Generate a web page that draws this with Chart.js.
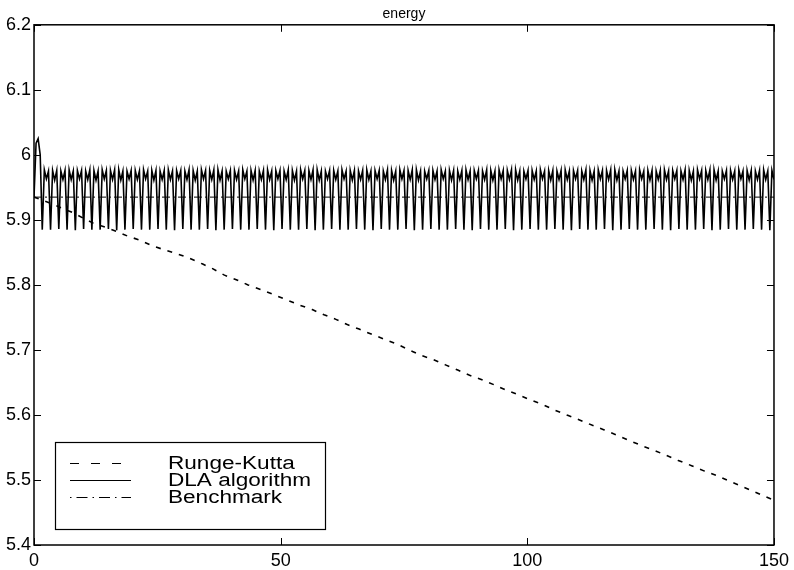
<!DOCTYPE html>
<html>
<head>
<meta charset="utf-8">
<title>energy</title>
<script src="https://cdn.jsdelivr.net/npm/chart.js@4.4.0/dist/chart.umd.min.js"></script>
<style>
  html, body { margin: 0; padding: 0; background: #fff; }
</style>
</head>
<body>
<canvas id="energyChart" width="794" height="570"></canvas>
<script>
// readings along the Runge-Kutta curve (time, energy)
const rkTime = [0, 3.2, 5.7, 7.9, 9.9, 12.0, 14.4, 16.8, 19.0, 21.4, 24.0, 26.4, 28.9, 31.2,
  34.2, 36.2, 38.6, 41.0, 43.4, 45.9, 48.3, 51.2, 53.8, 56.4, 58.8, 61.2, 63.5, 65.9, 68.5,
  71.2, 73.6, 76.0, 78.4, 81.0, 83.4, 85.9, 88.3, 90.8, 93.4, 95.8, 98.2, 100.7, 103.1,
  105.7, 108.3, 110.7, 113.2, 115.6, 118.1, 120.6, 123.1, 125.6, 128.1, 130.6, 133.3,
  135.8, 138.3, 140.7, 143.2, 145.7, 148.1, 150];
const rkEnergy = [5.935, 5.926, 5.918, 5.911, 5.903, 5.895, 5.889, 5.882, 5.875, 5.869, 5.860,
  5.854, 5.848, 5.842, 5.832, 5.825, 5.815, 5.808, 5.800, 5.793, 5.786, 5.777, 5.769, 5.762,
  5.754, 5.747, 5.739, 5.732, 5.724, 5.716, 5.709, 5.700, 5.692, 5.685, 5.677, 5.669, 5.661,
  5.654, 5.646, 5.638, 5.631, 5.623, 5.616, 5.607, 5.599, 5.592, 5.584, 5.577, 5.569, 5.561,
  5.553, 5.546, 5.538, 5.530, 5.522, 5.514, 5.507, 5.499, 5.491, 5.483, 5.475, 5.469];

// DLA samples, one every dlaStep (4 per oscillation)
const dlaStep = 150 / 358;
const dlaEnergy = [5.935, 6.018, 6.025, 6.000, 5.885,
  5.977,5.963,5.975,5.885, 5.976,5.961,5.976,5.886, 5.975,5.962,5.976,5.885, 5.977,5.962,5.975,5.884,
  5.976,5.963,5.976,5.886, 5.975,5.962,5.977,5.885, 5.976,5.961,5.975,5.885, 5.977,5.963,5.976,5.886,
  5.976,5.962,5.977,5.884, 5.977,5.961,5.975,5.885, 5.975,5.963,5.976,5.886, 5.976,5.962,5.975,5.885,
  5.977,5.963,5.975,5.885, 5.976,5.961,5.976,5.886, 5.975,5.962,5.976,5.885, 5.977,5.962,5.975,5.884,
  5.976,5.963,5.976,5.886, 5.975,5.962,5.977,5.885, 5.976,5.961,5.975,5.885, 5.977,5.963,5.976,5.886,
  5.976,5.962,5.977,5.884, 5.977,5.961,5.975,5.885, 5.975,5.963,5.976,5.886, 5.976,5.962,5.975,5.885,
  5.977,5.963,5.975,5.885, 5.976,5.961,5.976,5.886, 5.975,5.962,5.976,5.885, 5.977,5.962,5.975,5.884,
  5.976,5.963,5.976,5.886, 5.975,5.962,5.977,5.885, 5.976,5.961,5.975,5.885, 5.977,5.963,5.976,5.886,
  5.976,5.962,5.977,5.884, 5.977,5.961,5.975,5.885, 5.975,5.963,5.976,5.886, 5.976,5.962,5.975,5.885,
  5.977,5.963,5.975,5.885, 5.976,5.961,5.976,5.886, 5.975,5.962,5.976,5.885, 5.977,5.962,5.975,5.884,
  5.976,5.963,5.976,5.886, 5.975,5.962,5.977,5.885, 5.976,5.961,5.975,5.885, 5.977,5.963,5.976,5.886,
  5.976,5.962,5.977,5.884, 5.977,5.961,5.975,5.885, 5.975,5.963,5.976,5.886, 5.976,5.962,5.975,5.885,
  5.977,5.963,5.975,5.885, 5.976,5.961,5.976,5.886, 5.975,5.962,5.976,5.885, 5.977,5.962,5.975,5.884,
  5.976,5.963,5.976,5.886, 5.975,5.962,5.977,5.885, 5.976,5.961,5.975,5.885, 5.977,5.963,5.976,5.886,
  5.976,5.962,5.977,5.884, 5.977,5.961,5.975,5.885, 5.975,5.963,5.976,5.886, 5.976,5.962,5.975,5.885,
  5.977,5.963,5.975,5.885, 5.976,5.961,5.976,5.886, 5.975,5.962,5.976,5.885, 5.977,5.962,5.975,5.884,
  5.976,5.963,5.976,5.886, 5.975,5.962,5.977,5.885, 5.976,5.961,5.975,5.885, 5.977,5.963,5.976,5.886,
  5.976,5.962,5.977,5.884, 5.977,5.961,5.975,5.885, 5.975,5.963,5.976,5.886, 5.976,5.962,5.975,5.885,
  5.977,5.963,5.975,5.885, 5.976,5.961,5.976,5.886, 5.975,5.962,5.976,5.885, 5.977,5.962,5.975,5.884,
  5.976,5.963,5.976,5.886, 5.975,5.962,5.977,5.885, 5.976,5.961,5.975,5.885, 5.977,5.963,5.976,5.886,
  5.976,5.962,5.977,5.884, 5.977,5.961,5.975,5.885, 5.975,5.963,5.976,5.886, 5.976,5.962,5.975,5.885,
  5.977,5.963,5.975,5.885, 5.976,5.961,5.976,5.886, 5.975,5.962,5.976,5.885, 5.977,5.962,5.975,5.884,
  5.976, 5.962];

const benchTime = [0, 150];
const benchEnergy = [5.935, 5.935];

const xTicks = [0, 50, 100, 150];
const yTicks = [5.4, 5.5, 5.6, 5.7, 5.8, 5.9, 6.0, 6.1, 6.2];

const FONT = "'Liberation Sans', Arial, Helvetica, sans-serif";

function pairs(xs, ys) {
  return ys.map((y, i) => ({ x: xs[i], y: y }));
}

// box, inward ticks and the legend, drawn the old matlab way
const frame = {
  id: 'frame',
  afterDatasetsDraw(chart) {
    const ctx = chart.ctx;
    const a = chart.chartArea;
    const xs = chart.scales.x, ys = chart.scales.y;
    ctx.save();
    ctx.strokeStyle = '#000';
    ctx.lineWidth = 1;
    ctx.setLineDash([]);
    ctx.beginPath();
    xTicks.forEach(v => {
      const px = Math.round(xs.getPixelForValue(v)) + 0.5;
      ctx.moveTo(px, a.bottom); ctx.lineTo(px, a.bottom - 7);
      ctx.moveTo(px, a.top); ctx.lineTo(px, a.top + 7);
    });
    yTicks.forEach(v => {
      const py = Math.round(ys.getPixelForValue(v)) + 0.5;
      ctx.moveTo(a.left, py); ctx.lineTo(a.left + 7, py);
      ctx.moveTo(a.right, py); ctx.lineTo(a.right - 7, py);
    });
    ctx.stroke();
    ctx.lineWidth = 1.5;
    ctx.strokeRect(a.left, a.top, a.right - a.left, a.bottom - a.top);

    // legend
    const box = { x: 55, y: 442, w: 270, h: 87 };
    ctx.fillStyle = '#fff';
    ctx.fillRect(box.x, box.y, box.w, box.h);
    ctx.lineWidth = 1.2;
    ctx.strokeRect(box.x + 0.5, box.y + 0.5, box.w, box.h);
    const dashes = [[9, 12], [], [1.5, 5, 11, 5]];
    ctx.font = '18px ' + FONT;
    const sx = 143 / ctx.measureText('DLA algorithm').width;
    chart.data.datasets.forEach((ds, i) => {
      const y = 463 + i * 17;
      ctx.beginPath();
      ctx.setLineDash(dashes[i]);
      ctx.lineWidth = 1;
      ctx.moveTo(70, y + 0.5); ctx.lineTo(131, y + 0.5);
      ctx.stroke();
      ctx.setLineDash([]);
      ctx.save();
      ctx.translate(168, y);
      ctx.scale(sx, 1);
      ctx.fillStyle = '#000';
      ctx.textBaseline = 'middle';
      ctx.fillText(ds.label, 0, 1);
      ctx.restore();
    });
    ctx.restore();
  }
};

const ctx = document.getElementById('energyChart').getContext('2d');
new Chart(ctx, {
  type: 'line',
  data: {
    datasets: [{
      label: 'Runge-Kutta',
      data: pairs(rkTime, rkEnergy),
      borderColor: '#000',
      borderWidth: 1.6,
      borderDash: [5, 7],
      pointRadius: 0,
      tension: 0
    }, {
      label: 'DLA algorithm',
      data: pairs(dlaEnergy.map((_, i) => i * dlaStep), dlaEnergy),
      borderColor: '#000',
      borderWidth: 1.6,
      pointRadius: 0,
      tension: 0
    }, {
      label: 'Benchmark',
      data: pairs(benchTime, benchEnergy),
      borderColor: '#000',
      borderWidth: 1,
      borderDash: [8, 3, 2, 3],
      pointRadius: 0
    }]
  },
  options: {
    responsive: false,
    animation: false,
    layout: { padding: { left: 0, right: 18, top: 0, bottom: 0 } },
    plugins: {
      legend: { display: false },
      tooltip: { enabled: false },
      title: {
        display: true,
        fullSize: false,
        text: 'energy',
        color: '#000',
        font: { family: FONT, size: 14, weight: 'normal' },
        padding: { top: 6, bottom: 2 }
      }
    },
    scales: {
      x: {
        type: 'linear',
        min: 0,
        max: 150,
        afterBuildTicks: axis => { axis.ticks = xTicks.map(v => ({ value: v })); },
        afterFit: axis => { axis.height = 25; },
        grid: { display: false, drawTicks: false },
        border: { display: false },
        ticks: { color: '#000', font: { family: FONT, size: 18 }, padding: 5, maxRotation: 0 }
      },
      y: {
        min: 5.4,
        max: 6.2,
        afterBuildTicks: axis => { axis.ticks = yTicks.map(v => ({ value: v })); },
        afterFit: axis => { axis.width = 34; },
        grid: { display: false, drawTicks: false },
        border: { display: false },
        ticks: {
          color: '#000',
          font: { family: FONT, size: 18 },
          padding: 3,
          callback: v => String(Number(v.toFixed(1)))
        }
      }
    }
  },
  plugins: [frame]
});
</script>
</body>
</html>
